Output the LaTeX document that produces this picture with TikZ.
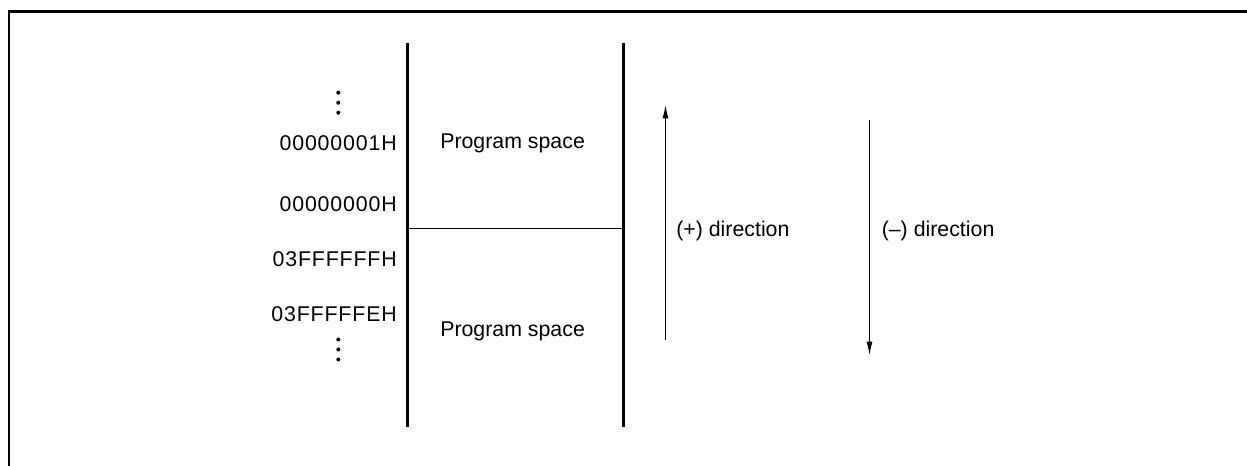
\documentclass[tikz,border=0pt]{standalone}
\usepackage{fontspec}
\setmainfont{Liberation Sans}
\usetikzlibrary{arrows.meta}
\begin{document}
\begin{tikzpicture}[x=0.75pt,y=-0.75pt,
  lbl/.style={inner sep=0pt,font=\fontsize{16}{19}\selectfont},
  addr/.style={inner sep=0pt,font=\fontsize{16}{19}\selectfont\addfontfeatures{LetterSpace=4}},
  wall/.style={line width=2.25pt},
  frameline/.style={line width=1.6pt},
  thinline/.style={line width=0.8pt},
  dirarrow/.style={line width=0.8pt,-{Latex[length=10pt,width=4.5pt]}},
  dotmark/.style={fill=black,draw=none}]
\useasboundingbox (0,0) rectangle (1247,466);
% frame
\coordinate (fbl) at (9,466);
\coordinate (ftl) at (9,11.5);
\coordinate (ftr) at (1247,11.5);
\draw[frameline] (fbl) -- (ftl) -- (ftr);
% walls
\coordinate (lwt) at (407.5,43);
\coordinate (lwb) at (407.5,427);
\coordinate (rwt) at (623.5,43);
\coordinate (rwb) at (623.5,427);
\draw[wall] (lwt) -- (lwb);
\draw[wall] (rwt) -- (rwb);
\coordinate (divl) at (407.5,228.5);
\coordinate (divr) at (623.5,228.5);
\draw[thinline] (divl) -- (divr);
% texts
\node[lbl,anchor=base west] (ps1) at (440,148.3) {Program space};
\node[lbl,anchor=base west] (ps2) at (440,336.7) {Program space};
\node[addr,anchor=base east] (a1) at (397,150.7) {00000001H};
\node[addr,anchor=base east] (a0) at (397,211.7) {00000000H};
\node[addr,anchor=base east] (af) at (397,266.7) {03FFFFFFH};
\node[addr,anchor=base east] (ae) at (397,321.7) {03FFFFFEH};
\node[lbl,anchor=base west] (plus) at (676,236.5) {(+) direction};
\node[lbl,anchor=base west] (minus) at (881.5,236.5) {(–) direction};
% dots
\foreach \y in {92.7,102.7,112.7,339.5,349.5,359.5}
  \fill[dotmark] (338.3,\y) circle (1.5pt);
% arrows
\coordinate (upb) at (665.5,340);
\coordinate (upt) at (665.5,105);
\coordinate (dnt) at (869.5,120);
\coordinate (dnb) at (869.5,355);
\draw[dirarrow] (upb) -- (upt);
\draw[dirarrow] (dnt) -- (dnb);
\end{tikzpicture}
\end{document}
